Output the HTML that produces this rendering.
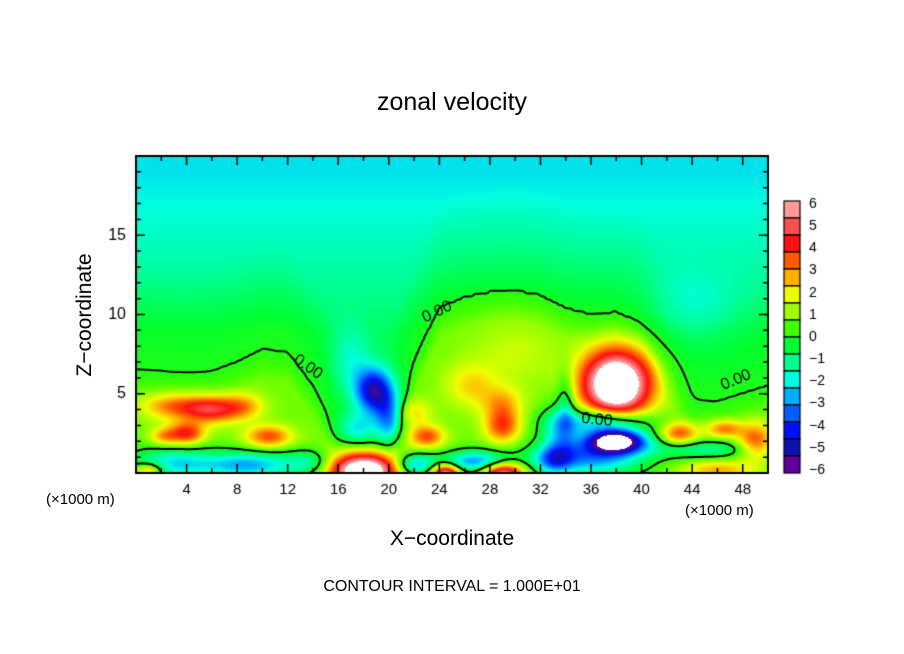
<!DOCTYPE html>
<html><head><meta charset="utf-8"><style>
body{margin:0;background:#fff;width:904px;height:654px;overflow:hidden;font-family:"Liberation Sans",sans-serif;}
#wrap{position:relative;width:904px;height:654px;}
.t{position:absolute;color:#000;white-space:nowrap;}
</style></head><body>
<div id="wrap">
<div class="t" style="left:0;width:904px;text-align:center;top:88px;font-size:25px;">zonal velocity</div>
<canvas id="cv" width="904" height="654" style="position:absolute;left:0;top:0"></canvas>
<div class="t" style="left:85px;top:315px;font-size:21px;transform:translate(-50%,-50%) rotate(-90deg);">Z−coordinate</div>
<div class="t" style="left:0;width:904px;text-align:center;top:527px;font-size:21px;">X−coordinate</div>
<div class="t" style="left:46px;top:491px;font-size:15px;">(×1000 m)</div>
<div class="t" style="left:685px;top:502px;font-size:15px;">(×1000 m)</div>
<div class="t" style="left:0;width:904px;text-align:center;top:578px;font-size:16px;">CONTOUR INTERVAL = 1.000E+01</div>
</div>
<script>
// axes data
const xTicks=[4,8,12,16,20,24,28,32,36,40,44,48];
const zTicks=[5,10,15];
const cbLabels=[6,5,4,3,2,1,0,-1,-2,-3,-4,-5,-6];
const cbColors=["#ff9a9a","#ff5050","#ff1010","#ff5a00","#ffb000","#f0ff00","#a0ff00","#40ff00","#00ff30","#00ff90","#00ffe0","#00b0ff","#0060ff","#0010ff","#1010b0","#6000a0"];
// zero-contour height (km) at x = 0,2,...,50
const zeroX=[0,2,4,6,8,10,12,14,16,18,20,22,24,26,28,30,32,34,36,38,40,42,44,46,48,50];
const zeroH=[6.5,6.4,6.3,6.4,7.0,7.8,7.6,5.5,2.5,2.0,2.5,7.0,10.5,11.2,11.5,11.6,11.3,10.5,10.0,10.2,9.5,6.5,4.5,4.5,5.0,5.5];
// anomaly blobs: x(km), z(km), amplitude, sx, sz
const blobX=[6,3,8.5,4,2.2,10.5,3,9,14,1,18.8,20,17.5,18,23,22,24.5,29,22,27,33,29,29,26.5,38,37,38,36,33.5,34,43,46.5,49,45,46,44,17,30];
const blobZ=[4.0,4.2,4.2,2.5,2.3,2.3,0.6,0.5,0.6,0.2,5.2,3.5,2.8,0.2,2.3,3.8,0,0,0.5,0.7,0.8,3.0,4.5,5.5,5.6,3.2,2.0,1.0,2.5,4.5,2.5,2.8,2.0,1.5,0.2,10.5,7,7.5];
const blobA=[3.5,2.5,2.0,3.5,2,3,-3,-3.5,-2.5,3,-4.8,-3,-2,7.5,3,1.5,6,6,-4,-4,-2.5,3.2,1.5,1.5,8.5,-4,-8,-4,-2.2,-1.6,3,2.5,3,-2,2,-0.8,-1.2,0.8];
const blobSX=[1.5,1.8,1.2,1.0,0.8,1.3,2.5,2.5,1.5,0.8,1.0,0.8,1.0,2.2,1.0,1.0,0.8,1.2,1.2,2,1,1,1.2,1.5,1.9,2.5,1.6,3,1,0.5,1,1,1,3,2,2.5,1,2.5];
const blobSZ=[0.6,0.6,0.6,0.5,0.4,0.5,0.7,0.6,0.6,0.3,1.0,1.2,0.7,0.8,0.5,0.6,0.4,0.5,0.5,0.5,0.6,0.8,0.7,1,1.5,0.6,0.5,0.8,1.2,1.5,0.5,0.4,0.8,0.4,0.4,1.5,1.5,1.5];

const X0=136,X1=768,Y0=156,Y1=473,XMAX=50,ZMAX=20;
const sx=x=>X0+(X1-X0)*x/XMAX, sz=z=>Y1-(Y1-Y0)*z/ZMAX;
const cv=document.getElementById('cv'),g=cv.getContext('2d');
function hAt(x){let i=Math.min(zeroX.length-2,Math.max(0,Math.floor(x/2)));let t=(x-zeroX[i])/(zeroX[i+1]-zeroX[i]);return zeroH[i]*(1-t)+zeroH[i+1]*t;}
function field(x,z){
  const h=hAt(x);let v;
  if(z<h)v=0.4*Math.min(h-z,2);
  else{let s=Math.min(1,Math.max(0,(z-9)/10));v=Math.max(-0.8,-0.12*(z-h))-1.5*s;}
  for(let i=0;i<blobX.length;i++){const dx=(x-blobX[i])/blobSX[i],dz=(z-blobZ[i])/blobSZ[i];const d=dx*dx+dz*dz;if(d<16)v+=blobA[i]*Math.exp(-0.5*d);}
  return v;
}
function hex(c){return [parseInt(c.slice(1,3),16),parseInt(c.slice(3,5),16),parseInt(c.slice(5,7),16)];}
const rgb=cbColors.map(hex);
function col(v){
  if(v>6.3||v<-6.3)return[255,255,255];
  let p=(6-v)/12*(rgb.length-1);p=Math.max(0,Math.min(rgb.length-1,p));
  const i=Math.min(rgb.length-2,Math.floor(p)),t=p-i;
  return rgb[i].map((c,k)=>Math.round(c*(1-t)+rgb[i+1][k]*t));
}
const W=X1-X0,H=Y1-Y0,img=g.createImageData(W,H);
for(let py=0;py<H;py++)for(let px=0;px<W;px++){
  const x=(px+0.5)/W*XMAX,z=(H-py-0.5)/H*ZMAX,c=col(field(x,z)),o=(py*W+px)*4;
  img.data[o]=c[0];img.data[o+1]=c[1];img.data[o+2]=c[2];img.data[o+3]=255;
}
g.putImageData(img,X0,Y0);
// zero contour via marching squares
const S=3,nx=Math.ceil(W/S),ny=Math.ceil(H/S),F=[];
for(let j=0;j<=ny;j++){F[j]=[];for(let i=0;i<=nx;i++)F[j][i]=field(i*S/W*XMAX,(H-j*S)/H*ZMAX);}
g.save();g.beginPath();g.rect(X0,Y0,W,H);g.clip();
g.strokeStyle="#000";g.lineWidth=2;g.beginPath();
function lerp(a,b){return a/(a-b);}
for(let j=0;j<ny;j++)for(let i=0;i<nx;i++){
  const a=F[j][i],b=F[j][i+1],c=F[j+1][i+1],d=F[j+1][i],pts=[];
  if((a>0)!=(b>0))pts.push([i+lerp(a,b),j]);
  if((b>0)!=(c>0))pts.push([i+1,j+lerp(b,c)]);
  if((c>0)!=(d>0))pts.push([i+1-lerp(c,d),j+1]);
  if((d>0)!=(a>0))pts.push([i,j+1-lerp(d,a)]);
  for(let k=0;k+1<pts.length;k+=2){g.moveTo(X0+pts[k][0]*S,Y0+pts[k][1]*S);g.lineTo(X0+pts[k+1][0]*S,Y0+pts[k+1][1]*S);}
}
g.stroke();g.restore();
// contour labels
g.fillStyle="#000";g.font="16px 'Liberation Sans',sans-serif";
[[437,312,-0.45],[308,367,0.6],[597,420,0.1],[736,380,-0.4]].forEach(l=>{g.save();g.translate(l[0],l[1]);g.rotate(l[2]);g.textAlign="center";g.textBaseline="middle";g.fillText("0.00",0,0);g.restore();});
// frame and ticks
g.strokeStyle="#000";g.lineWidth=2;g.strokeRect(X0,Y0,W,H);g.lineWidth=1.5;g.beginPath();
for(let x=2;x<XMAX;x+=2){const L=x%4==0?9:5,p=sx(x);g.moveTo(p,Y1);g.lineTo(p,Y1-L);g.moveTo(p,Y0);g.lineTo(p,Y0+L);}
for(let z=1;z<ZMAX;z++){const L=z%5==0?9:5,p=sz(z);g.moveTo(X0,p);g.lineTo(X0+L,p);g.moveTo(X1,p);g.lineTo(X1-L,p);}
g.stroke();
g.font="15px 'Liberation Sans',sans-serif";g.textAlign="center";g.textBaseline="top";
xTicks.forEach(x=>g.fillText(String(x),sx(x),482));
g.textAlign="right";g.textBaseline="middle";g.font="16px 'Liberation Sans',sans-serif";
zTicks.forEach(z=>g.fillText(String(z),126,sz(z)));
// colorbar
const CBX=784,CBW=16,CBT=201,CBB=473,unit=(CBB-CBT)/cbColors.length;
cbColors.forEach((c,i)=>{g.fillStyle=c;g.fillRect(CBX,CBT+i*unit,CBW,unit);g.strokeStyle="#000";g.lineWidth=1.2;g.strokeRect(CBX,CBT+i*unit,CBW,unit);});
g.fillStyle="#000";g.textAlign="left";g.font="14px 'Liberation Sans',sans-serif";
cbLabels.forEach(v=>{g.fillText((v<0?"−":"")+Math.abs(v),809,CBT+3+(6-v)/12*(CBB-CBT-6));});
</script>
</body></html>
